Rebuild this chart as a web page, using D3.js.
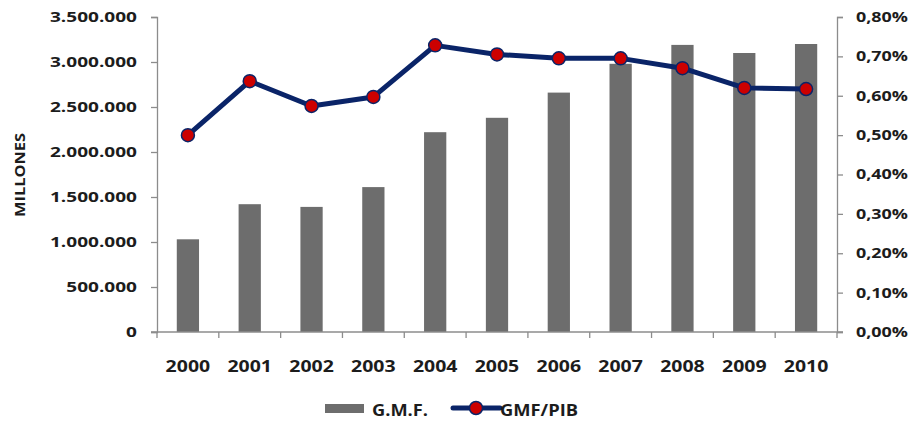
<!DOCTYPE html>
<html>
<head>
<meta charset="utf-8">
<script src="https://cdn.jsdelivr.net/npm/d3@7"></script>
<style>
body { margin: 0; background: #fff; }
text { font-family: "Open Sans", sans-serif; font-weight: 700; fill: #1c1c1c; }
</style>
</head>
<body>
<div id="chart"></div>
<script>
// values
var years = ["2000","2001","2002","2003","2004","2005","2006","2007","2008","2009","2010"];
var gmf = [1030000, 1420000, 1390000, 1610000, 2220000, 2380000, 2660000, 2980000, 3190000, 3100000, 3200000];
var gmfPib = [0.0050, 0.00637, 0.00574, 0.00597, 0.00728, 0.00705, 0.00695, 0.00695, 0.00670, 0.00620, 0.00617];
var leftTicks = [0, 500000, 1000000, 1500000, 2000000, 2500000, 3000000, 3500000];
var rightTicks = [0, 0.001, 0.002, 0.003, 0.004, 0.005, 0.006, 0.007, 0.008];

var W = 914, H = 421;
var margin = {top: 17, right: 77, bottom: 89, left: 157};
var width = W - margin.left - margin.right,
    height = H - margin.top - margin.bottom;

var svg = d3.select("#chart").append("svg")
    .attr("width", W)
    .attr("height", H);
var g = svg.append("g")
    .attr("transform", "translate(" + margin.left + "," + margin.top + ")");

var x = d3.scaleBand().domain(years).range([0, width]).paddingInner(0.64).paddingOuter(0.32);
var yL = d3.scaleLinear().domain([0, 3500000]).range([height, 0]);
var yR = d3.scaleLinear().domain([0, 0.008]).range([height, 0]);

var fmtL = function(d) { return d3.format(",")(d).replace(/,/g, "."); };
var fmtR = function(d) { return d3.format(".2f")(d * 100).replace(".", ",") + "%"; };

// the original text is wider than the installed fonts, so stretch it a bit
function stretch(sel, k) {
  sel.each(function() {
    var w = this.getComputedTextLength();
    d3.select(this).attr("textLength", w * k).attr("lengthAdjust", "spacingAndGlyphs");
  });
}

// bars
g.selectAll(".bar")
    .data(years)
  .enter().append("rect")
    .attr("class", "bar")
    .attr("x", function(d) { return x(d); })
    .attr("width", x.bandwidth())
    .attr("y", function(d, i) { return yL(gmf[i]); })
    .attr("height", function(d, i) { return height - yL(gmf[i]); })
    .attr("fill", "#6d6d6d");

// left axis
var axL = g.append("g")
    .call(d3.axisLeft(yL).tickValues(leftTicks).tickFormat(fmtL).tickSize(6).tickPadding(14));
// right axis
var axR = g.append("g")
    .attr("transform", "translate(" + width + ",0)")
    .call(d3.axisRight(yR).tickValues(rightTicks).tickFormat(fmtR).tickSize(6).tickPadding(13));
// bottom axis, ticks between categories
var step = x.step();
var axB = g.append("g")
    .attr("transform", "translate(0," + height + ")");
axB.append("line")
    .attr("x1", -6).attr("x2", width + 6)
    .attr("stroke", "#8c8c8c").attr("stroke-width", 1.3);
axB.selectAll(".tk")
    .data(d3.range(years.length + 1))
  .enter().append("line")
    .attr("x1", function(i) { return i * step; })
    .attr("x2", function(i) { return i * step; })
    .attr("y1", 0).attr("y2", 6)
    .attr("stroke", "#8c8c8c").attr("stroke-width", 1.3);
axB.selectAll(".lbl")
    .data(years)
  .enter().append("text")
    .attr("x", function(d) { return x(d) + x.bandwidth() / 2; })
    .attr("y", 40)
    .attr("text-anchor", "middle")
    .style("font-size", "16.5px")
    .text(function(d) { return d; })
    .call(stretch, 1.18);

[axL, axR].forEach(function(a) {
  a.select(".domain").attr("stroke", "#8c8c8c").attr("stroke-width", 1.3);
  a.selectAll(".tick line").attr("stroke", "#8c8c8c").attr("stroke-width", 1.3);
  a.selectAll(".tick text")
    .style("font-size", "14px")
    .style("font-family", "'Open Sans', sans-serif")
    .style("font-weight", 700)
    .attr("fill", "#1c1c1c");
});
axL.selectAll(".tick text").call(stretch, 1.36);
axR.selectAll(".tick text").call(stretch, 1.28);

// axis title
svg.append("text")
    .attr("transform", "translate(25,175) rotate(-90)")
    .attr("text-anchor", "middle")
    .style("font-size", "15px")
    .attr("textLength", 84)
    .attr("lengthAdjust", "spacingAndGlyphs")
    .text("MILLONES");

// line
var line = d3.line()
    .x(function(d, i) { return x(years[i]) + x.bandwidth() / 2; })
    .y(function(d) { return yR(d); });
g.append("path")
    .datum(gmfPib)
    .attr("d", line)
    .attr("fill", "none")
    .attr("stroke", "#0a2468")
    .attr("stroke-width", 5)
    .attr("stroke-linejoin", "round");
g.selectAll(".dot")
    .data(gmfPib)
  .enter().append("circle")
    .attr("cx", function(d, i) { return x(years[i]) + x.bandwidth() / 2; })
    .attr("cy", function(d) { return yR(d); })
    .attr("r", 6.5)
    .attr("fill", "#cc0000")
    .attr("stroke", "#0a2468")
    .attr("stroke-width", 1.5);

// legend
var leg = svg.append("g").attr("transform", "translate(0,408)");
leg.append("rect")
    .attr("x", 325).attr("y", -4).attr("width", 39).attr("height", 9)
    .attr("fill", "#6d6d6d");
leg.append("text")
    .attr("x", 372).attr("y", 8)
    .style("font-size", "16px")
    .attr("textLength", 56).attr("lengthAdjust", "spacingAndGlyphs")
    .text("G.M.F.");
leg.append("line")
    .attr("x1", 453).attr("x2", 500).attr("y1", 0).attr("y2", 0)
    .attr("stroke", "#0a2468").attr("stroke-width", 5).attr("stroke-linecap", "round");
leg.append("circle")
    .attr("cx", 476).attr("cy", 0).attr("r", 6.5)
    .attr("fill", "#cc0000").attr("stroke", "#0a2468").attr("stroke-width", 1.5);
leg.append("text")
    .attr("x", 500).attr("y", 8)
    .style("font-size", "16px")
    .attr("textLength", 78).attr("lengthAdjust", "spacingAndGlyphs")
    .text("GMF/PIB");
</script>
</body>
</html>
